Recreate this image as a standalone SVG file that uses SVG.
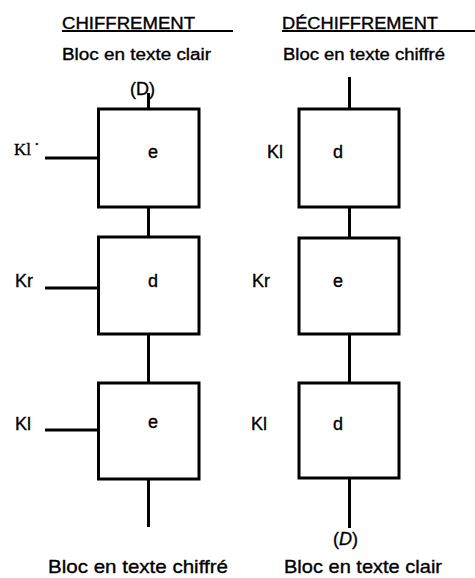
<svg xmlns="http://www.w3.org/2000/svg" width="475" height="578" viewBox="0 0 475 578">
<style>
.t{font-family:"Liberation Sans",Arial,sans-serif;fill:#000;stroke:#000;stroke-width:0.35}
.h{font-size:17px}
.s{font-size:16px}
.b{font-size:19px}
.k{font-size:18px}
.ser{font-family:"Liberation Serif","Times New Roman",serif;font-size:17px;fill:#000;stroke:#000;stroke-width:0.35}
.box{fill:#fff;stroke:#000;stroke-width:3}
.ln{stroke:#000;stroke-width:3;fill:none}
.ul{stroke:#000;stroke-width:1.8;fill:none}
</style>
<rect width="475" height="578" fill="#fff"/>
<g id="headings">
<text class="t h" x="62" y="29" textLength="133" lengthAdjust="spacingAndGlyphs">CHIFFREMENT</text>
<line class="ul" x1="62" y1="31" x2="233" y2="31"/>
<text class="t h" x="282" y="29" textLength="156" lengthAdjust="spacingAndGlyphs">DÉCHIFFREMENT</text>
<line class="ul" x1="282" y1="31" x2="475" y2="31"/>
<text class="t s" x="62" y="60" textLength="149" lengthAdjust="spacingAndGlyphs">Bloc en texte clair</text>
<text class="t s" x="283" y="60" textLength="162" lengthAdjust="spacingAndGlyphs">Bloc en texte chiffré</text>
<text class="t k" x="130" y="95">(D)</text>
<text class="t k" x="333" y="545">(<tspan font-style="italic">D</tspan>)</text>
<text class="t b" x="48" y="573" textLength="180" lengthAdjust="spacingAndGlyphs">Bloc en texte chiffré</text>
<text class="t b" x="284" y="573" textLength="158" lengthAdjust="spacingAndGlyphs">Bloc en texte clair</text>
</g>
<g id="connectors">
<line class="ln" x1="148.5" y1="93" x2="148.5" y2="109"/>
<line class="ln" x1="148.5" y1="207" x2="148.5" y2="237"/>
<line class="ln" x1="148.5" y1="334" x2="148.5" y2="383"/>
<line class="ln" x1="148.5" y1="479" x2="148.5" y2="527"/>
<line class="ln" x1="45" y1="158" x2="98" y2="158"/>
<line class="ln" x1="45" y1="288" x2="98" y2="288"/>
<line class="ln" x1="45" y1="430" x2="98" y2="430"/>
<line class="ln" x1="349.5" y1="77" x2="349.5" y2="109"/>
<line class="ln" x1="349.5" y1="207" x2="349.5" y2="238"/>
<line class="ln" x1="349.5" y1="334" x2="349.5" y2="383"/>
<line class="ln" x1="349.5" y1="478" x2="349.5" y2="528"/>
</g>
<g id="enc1"><rect class="box" x="98.5" y="109" width="100.5" height="98"/><text class="t k" x="148" y="158">e</text><text class="ser" x="14" y="155">Kl</text><text class="ser" x="34" y="150" font-size="8">·</text></g>
<g id="enc2"><rect class="box" x="98.5" y="237" width="100.5" height="97"/><text class="t k" x="148" y="287">d</text><text class="t k" x="15" y="287">Kr</text></g>
<g id="enc3"><rect class="box" x="98.5" y="383" width="100.5" height="96"/><text class="t k" x="148" y="428">e</text><text class="t k" x="15" y="430">Kl</text></g>
<g id="dec1"><rect class="box" x="299" y="109" width="100" height="98"/><text class="t k" x="333" y="158">d</text><text class="t k" x="267" y="158">Kl</text></g>
<g id="dec2"><rect class="box" x="299" y="238" width="100" height="96"/><text class="t k" x="333" y="287">e</text><text class="t k" x="252" y="287">Kr</text></g>
<g id="dec3"><rect class="box" x="299" y="383" width="100" height="95"/><text class="t k" x="333" y="430">d</text><text class="t k" x="251" y="430">Kl</text></g>
</svg>
